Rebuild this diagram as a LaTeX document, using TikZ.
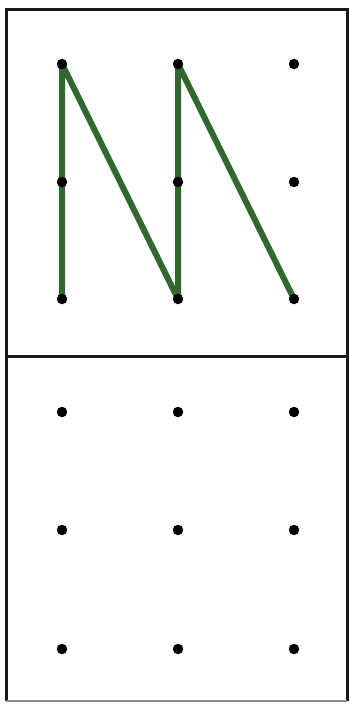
\documentclass[tikz,border=0pt]{standalone}
\usepackage{xcolor}
\usepackage{tikz}
\usetikzlibrary{backgrounds}

\definecolor{pathgreen}{RGB}{48,104,46}

\begin{document}
\begin{tikzpicture}[x=1pt, y=-1pt,
  frame/.style={draw=black!90, line width=3pt},
  pt/.style={circle, fill=black, inner sep=0pt, minimum size=10.5pt},
  trace/.style={draw=pathgreen, line width=6pt, line join=round, line cap=round}]
  \useasboundingbox (0,0) rectangle (349,704);
  % two panels
  \draw[frame] (6,9) rectangle (347,356);
  \draw[frame] (6,356) -- (6,701);
  \draw[frame] (347,356) -- (347,701);
  \draw[draw=black!45, line width=2pt] (6,701) -- (347,701);
  % dot grids
  \foreach \c/\x in {1/62, 2/178, 3/294} {
    \foreach \r/\y in {1/64, 2/182, 3/299} {
      \node[pt] (u\c\r) at (\x,\y) {};
    }
    \foreach \r/\y in {1/412, 2/530, 3/649} {
      \node[pt] (l\c\r) at (\x,\y) {};
    }
  }
  % the drawn figure
  \begin{scope}[on background layer]
    \fill[white] (0,0) rectangle (349,704);
    \draw[trace] (u13.center) -- (u11.center) -- (u23.center) -- (u21.center) -- (u33.center);
  \end{scope}
\end{tikzpicture}
\end{document}
